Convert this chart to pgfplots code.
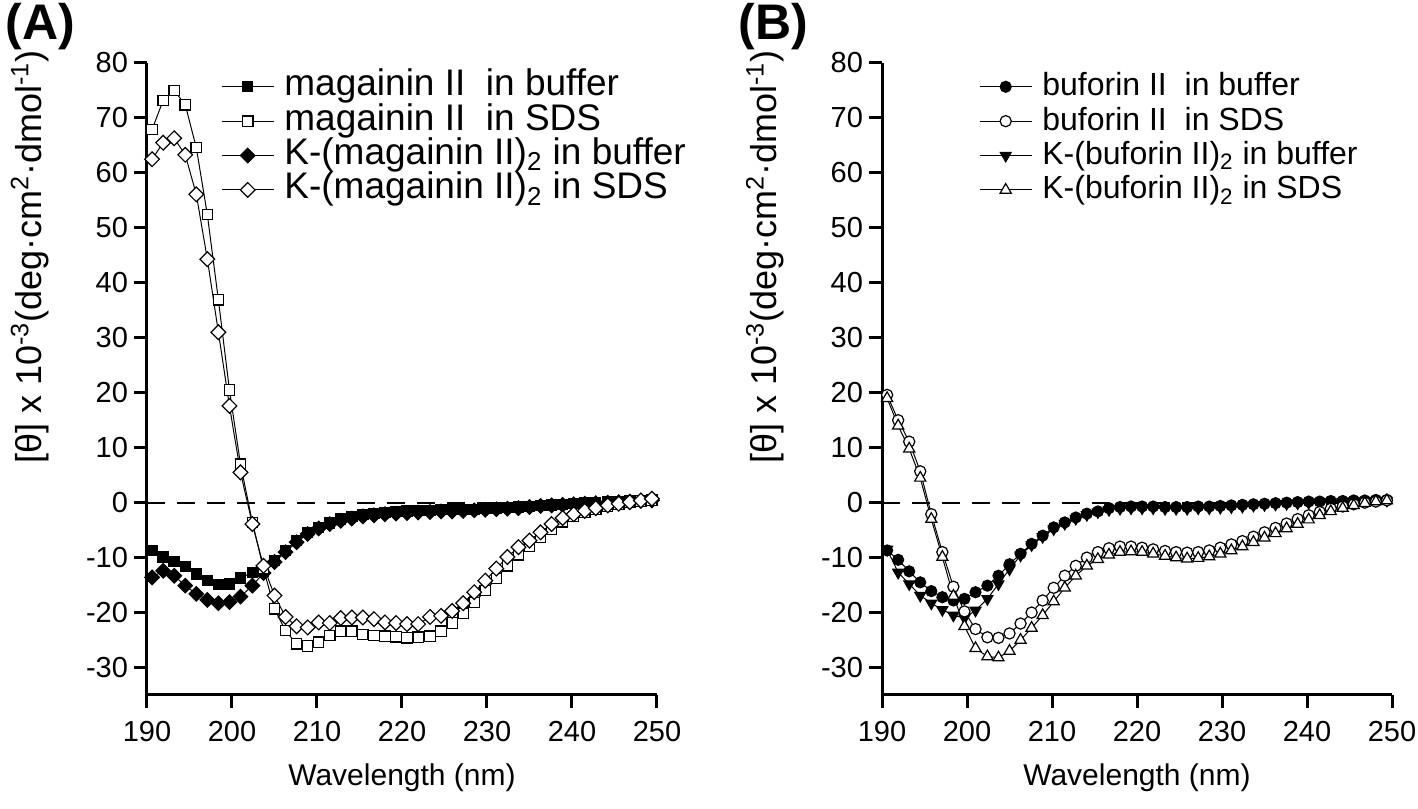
\documentclass[border=0pt]{standalone}
\usepackage{fontspec}
\setmainfont{Liberation Sans}
\usepackage{pgfplots}
\usepackage{pgfplotstable}
\pgfplotsset{compat=1.18}

\pgfplotstableread{
x mb ms kb ks
190.6 -8.7 67.9 -13.6 62.5
191.9 -9.9 73.2 -12.4 65.5
193.2 -10.7 75.0 -13.3 66.3
194.5 -11.6 72.4 -15.1 63.3
195.8 -13.0 64.6 -16.6 56.1
197.1 -14.2 52.4 -17.7 44.3
198.4 -14.9 36.9 -18.3 31.0
199.7 -14.8 20.5 -18.1 17.6
201.0 -13.7 7.0 -17.1 5.5
202.4 -12.7 -3.6 -15.1 -3.9
203.7 -12.5 -12.0 -12.8 -11.5
205.0 -10.5 -19.3 -10.8 -16.9
206.3 -8.7 -23.3 -9.0 -20.8
207.6 -6.9 -25.7 -7.2 -22.5
208.9 -5.4 -26.1 -5.7 -22.7
210.2 -4.5 -25.4 -4.7 -21.8
211.5 -3.7 -24.2 -3.9 -21.9
212.8 -3.0 -23.4 -3.3 -21.0
214.1 -2.5 -23.4 -2.9 -20.9
215.4 -2.2 -24.0 -2.5 -20.9
216.7 -2.0 -24.2 -2.3 -21.2
218.0 -1.8 -24.3 -2.1 -21.8
219.3 -1.6 -24.4 -2.0 -21.9
220.6 -1.5 -24.6 -1.9 -22.1
221.9 -1.4 -24.5 -1.8 -22.1
223.3 -1.4 -24.3 -1.7 -20.8
224.6 -1.3 -23.4 -1.6 -20.6
225.9 -1.3 -21.9 -1.6 -19.7
227.2 -1.2 -20.1 -1.5 -18.3
228.5 -1.2 -18.2 -1.4 -16.3
229.8 -1.1 -16.0 -1.3 -14.2
231.1 -1.0 -13.8 -1.2 -12.0
232.4 -0.9 -11.5 -1.1 -9.9
233.7 -0.8 -9.5 -1.0 -8.1
235.0 -0.7 -8.0 -0.8 -6.9
236.3 -0.5 -6.3 -0.6 -5.4
237.6 -0.4 -4.8 -0.5 -3.9
238.9 -0.3 -3.5 -0.4 -2.8
240.2 -0.2 -2.5 -0.3 -2.1
241.5 -0.1 -1.8 -0.2 -1.5
242.8 0.0 -1.2 -0.1 -1.0
244.2 0.1 -0.7 0.0 -0.5
245.5 0.2 -0.3 0.1 -0.2
246.8 0.3 0.0 0.2 0.1
248.1 0.4 0.3 0.3 0.4
249.4 0.5 0.5 0.4 0.7
}\dataA

\pgfplotstableread{
x bb bs kb ks
190.6 -8.7 19.6 -8.5 19.0
191.9 -10.4 15.0 -12.7 14.0
193.2 -12.5 11.1 -14.8 9.8
194.5 -14.5 5.7 -16.9 4.5
195.8 -16.1 -2.1 -18.3 -3.0
197.1 -17.2 -9.0 -19.5 -9.9
198.4 -17.8 -15.3 -20.5 -17.0
199.7 -17.5 -19.8 -21.0 -22.5
201.0 -16.3 -23.0 -19.6 -26.5
202.4 -15.1 -24.5 -17.5 -28.0
203.7 -13.3 -24.6 -14.8 -28.2
205.0 -11.2 -23.8 -12.1 -27.0
206.3 -9.3 -22.0 -9.6 -25.0
207.6 -7.5 -20.0 -7.7 -22.8
208.9 -6.0 -17.8 -6.2 -20.5
210.2 -4.5 -15.5 -4.8 -18.0
211.5 -3.6 -13.3 -3.8 -15.5
212.8 -2.7 -11.5 -2.9 -13.3
214.1 -2.0 -10.0 -2.2 -11.5
215.4 -1.6 -9.0 -1.7 -10.3
216.7 -1.0 -8.3 -1.3 -9.5
218.0 -0.8 -8.0 -1.1 -9.0
219.3 -0.7 -8.0 -1.0 -8.9
220.6 -0.7 -8.2 -1.0 -9.0
221.9 -0.7 -8.5 -1.0 -9.3
223.3 -0.8 -8.8 -1.1 -9.7
224.6 -0.8 -9.0 -1.1 -10.0
225.9 -0.8 -9.1 -1.1 -10.2
227.2 -0.7 -9.0 -1.0 -10.1
228.5 -0.7 -8.7 -1.0 -9.8
229.8 -0.6 -8.2 -0.9 -9.3
231.1 -0.5 -7.6 -0.8 -8.7
232.4 -0.4 -7.0 -0.7 -8.0
233.7 -0.3 -6.2 -0.5 -7.2
235.0 -0.2 -5.4 -0.4 -6.4
236.3 -0.1 -4.6 -0.3 -5.6
237.6 0.0 -3.8 -0.2 -4.7
238.9 0.1 -3.0 -0.1 -3.9
240.2 0.2 -2.3 0.0 -3.1
241.5 0.2 -1.7 0.1 -2.3
242.8 0.3 -1.1 0.1 -1.6
244.2 0.3 -0.7 0.2 -1.0
245.5 0.4 -0.3 0.3 -0.5
246.8 0.4 0.0 0.3 -0.1
248.1 0.5 0.2 0.4 0.2
249.4 0.5 0.4 0.4 0.4
}\dataB

\pgfplotsset{
  cdstyle/.style={
    scale only axis, width=255pt, height=316pt,
    anchor=south west,
    xmin=190, xmax=250, ymin=-35, ymax=80,
    axis x line=bottom, axis y line=left,
    axis line style={-, line width=1.5pt, black},
    xtick={190,200,...,250}, ytick={-30,-20,...,80},
    tick align=outside, major tick length=6.5pt,
    tick style={line width=1.5pt, black},
    ticklabel style={font=\fontsize{14.5}{17}\selectfont},
    xticklabel style={yshift=-3pt},
    yticklabel style={xshift=0.5pt},
    /pgf/number format/assume math mode=true,
    clip=false,
    xlabel={Wavelength (nm)},
    xlabel style={font=\fontsize{15}{18}\selectfont, at={(rel axis cs:0.5,0)}, anchor=center, yshift=-41.5pt},
    ylabel={[θ] x 10\textsuperscript{-3}(deg·cm\textsuperscript{2}·dmol\textsuperscript{-1})},
    ylabel style={font=\fontsize{18}{21}\selectfont, at={(rel axis cs:-0.23,0.693)}, anchor=center},
    legend cell align=left,
    legend style={draw=none, fill=none, anchor=north west,
      font=\fontsize{18.5}{21}\selectfont, row sep=1pt, column sep=4.5pt,
      nodes={inner sep=0.6pt, text height=12pt, text depth=3pt}},
    legend image code/.code={\draw[mark repeat=2,mark phase=2,#1] plot coordinates {(0pt,0pt) (13pt,0pt) (26pt,0pt)};},
  },
  ln/.style={black, line width=0.5pt},
}

\begin{document}
\begin{tikzpicture}
\useasboundingbox (0,0) rectangle (709pt,404pt);
\node[anchor=west, inner sep=0pt, font=\fontsize{25}{28}\selectfont\bfseries] at (2.5pt,390.5pt) {(A)};
\node[anchor=west, inner sep=0pt, font=\fontsize{25}{28}\selectfont\bfseries] at (369pt,390.5pt) {(B)};

\begin{axis}[cdstyle, at={(73.5pt,56.5pt)},
  legend style={at={(rel axis cs:0.133,0.995)}}]
\addlegendimage{ln, mark=square*, mark size=2.6pt, mark options={solid, fill=black}}
\addlegendentry{magainin II~ in buffer}
\addlegendimage{ln, mark=square*, mark size=2.6pt, mark options={solid, fill=white, line width=0.6pt}}
\addlegendentry{magainin II~ in SDS}
\addlegendimage{ln, mark=square*, mark size=2.6pt, mark options={solid, rotate=45, fill=black}}
\addlegendentry{K-(magainin II)\textsubscript{2} in buffer}
\addlegendimage{ln, mark=square*, mark size=2.6pt, mark options={solid, rotate=45, fill=white, line width=0.6pt}}
\addlegendentry{K-(magainin II)\textsubscript{2} in SDS}
\addplot[black, line width=1pt, dash pattern=on 9pt off 6pt, forget plot] coordinates {(190,0) (250,0)};
\addplot[ln, mark=square*, mark size=2.6pt, mark options={solid, fill=black}, forget plot] table[x=x,y=mb]{\dataA};
\addplot[ln, mark=square*, mark size=2.6pt, mark options={solid, rotate=45, fill=black}, forget plot] table[x=x,y=kb]{\dataA};
\addplot[ln, mark=square*, mark size=2.6pt, mark options={solid, fill=white, line width=0.6pt}, forget plot] table[x=x,y=ms]{\dataA};
\addplot[ln, mark=square*, mark size=2.6pt, mark options={solid, rotate=45, fill=white, line width=0.6pt}, forget plot] table[x=x,y=ks]{\dataA};
\end{axis}

\begin{axis}[cdstyle, at={(441pt,56.5pt)},
  legend style={at={(rel axis cs:0.178,0.995)}, font=\fontsize{16}{19}\selectfont}]
\addlegendimage{ln, mark=*, mark size=2.8pt, mark options={solid, fill=black}}
\addlegendentry{buforin II~ in buffer}
\addlegendimage{ln, mark=*, mark size=2.8pt, mark options={solid, fill=white, line width=0.6pt}}
\addlegendentry{buforin II~ in SDS}
\addlegendimage{ln, mark=triangle*, mark size=3.2pt, mark options={solid, rotate=180, fill=black}}
\addlegendentry{K-(buforin II)\textsubscript{2} in buffer}
\addlegendimage{ln, mark=triangle*, mark size=3.2pt, mark options={solid, fill=white, line width=0.6pt}}
\addlegendentry{K-(buforin II)\textsubscript{2} in SDS}
\addplot[black, line width=1pt, dash pattern=on 9pt off 6pt, forget plot] coordinates {(190,0) (250,0)};
\addplot[ln, mark=*, mark size=2.8pt, mark options={solid, fill=black}, forget plot] table[x=x,y=bb]{\dataB};
\addplot[ln, mark=triangle*, mark size=3.2pt, mark options={solid, rotate=180, fill=black}, forget plot] table[x=x,y=kb]{\dataB};
\addplot[ln, mark=*, mark size=2.8pt, mark options={solid, fill=white, line width=0.6pt}, forget plot] table[x=x,y=bs]{\dataB};
\addplot[ln, mark=triangle*, mark size=3.2pt, mark options={solid, fill=white, line width=0.6pt}, forget plot] table[x=x,y=ks]{\dataB};
\end{axis}
\end{tikzpicture}
\end{document}
